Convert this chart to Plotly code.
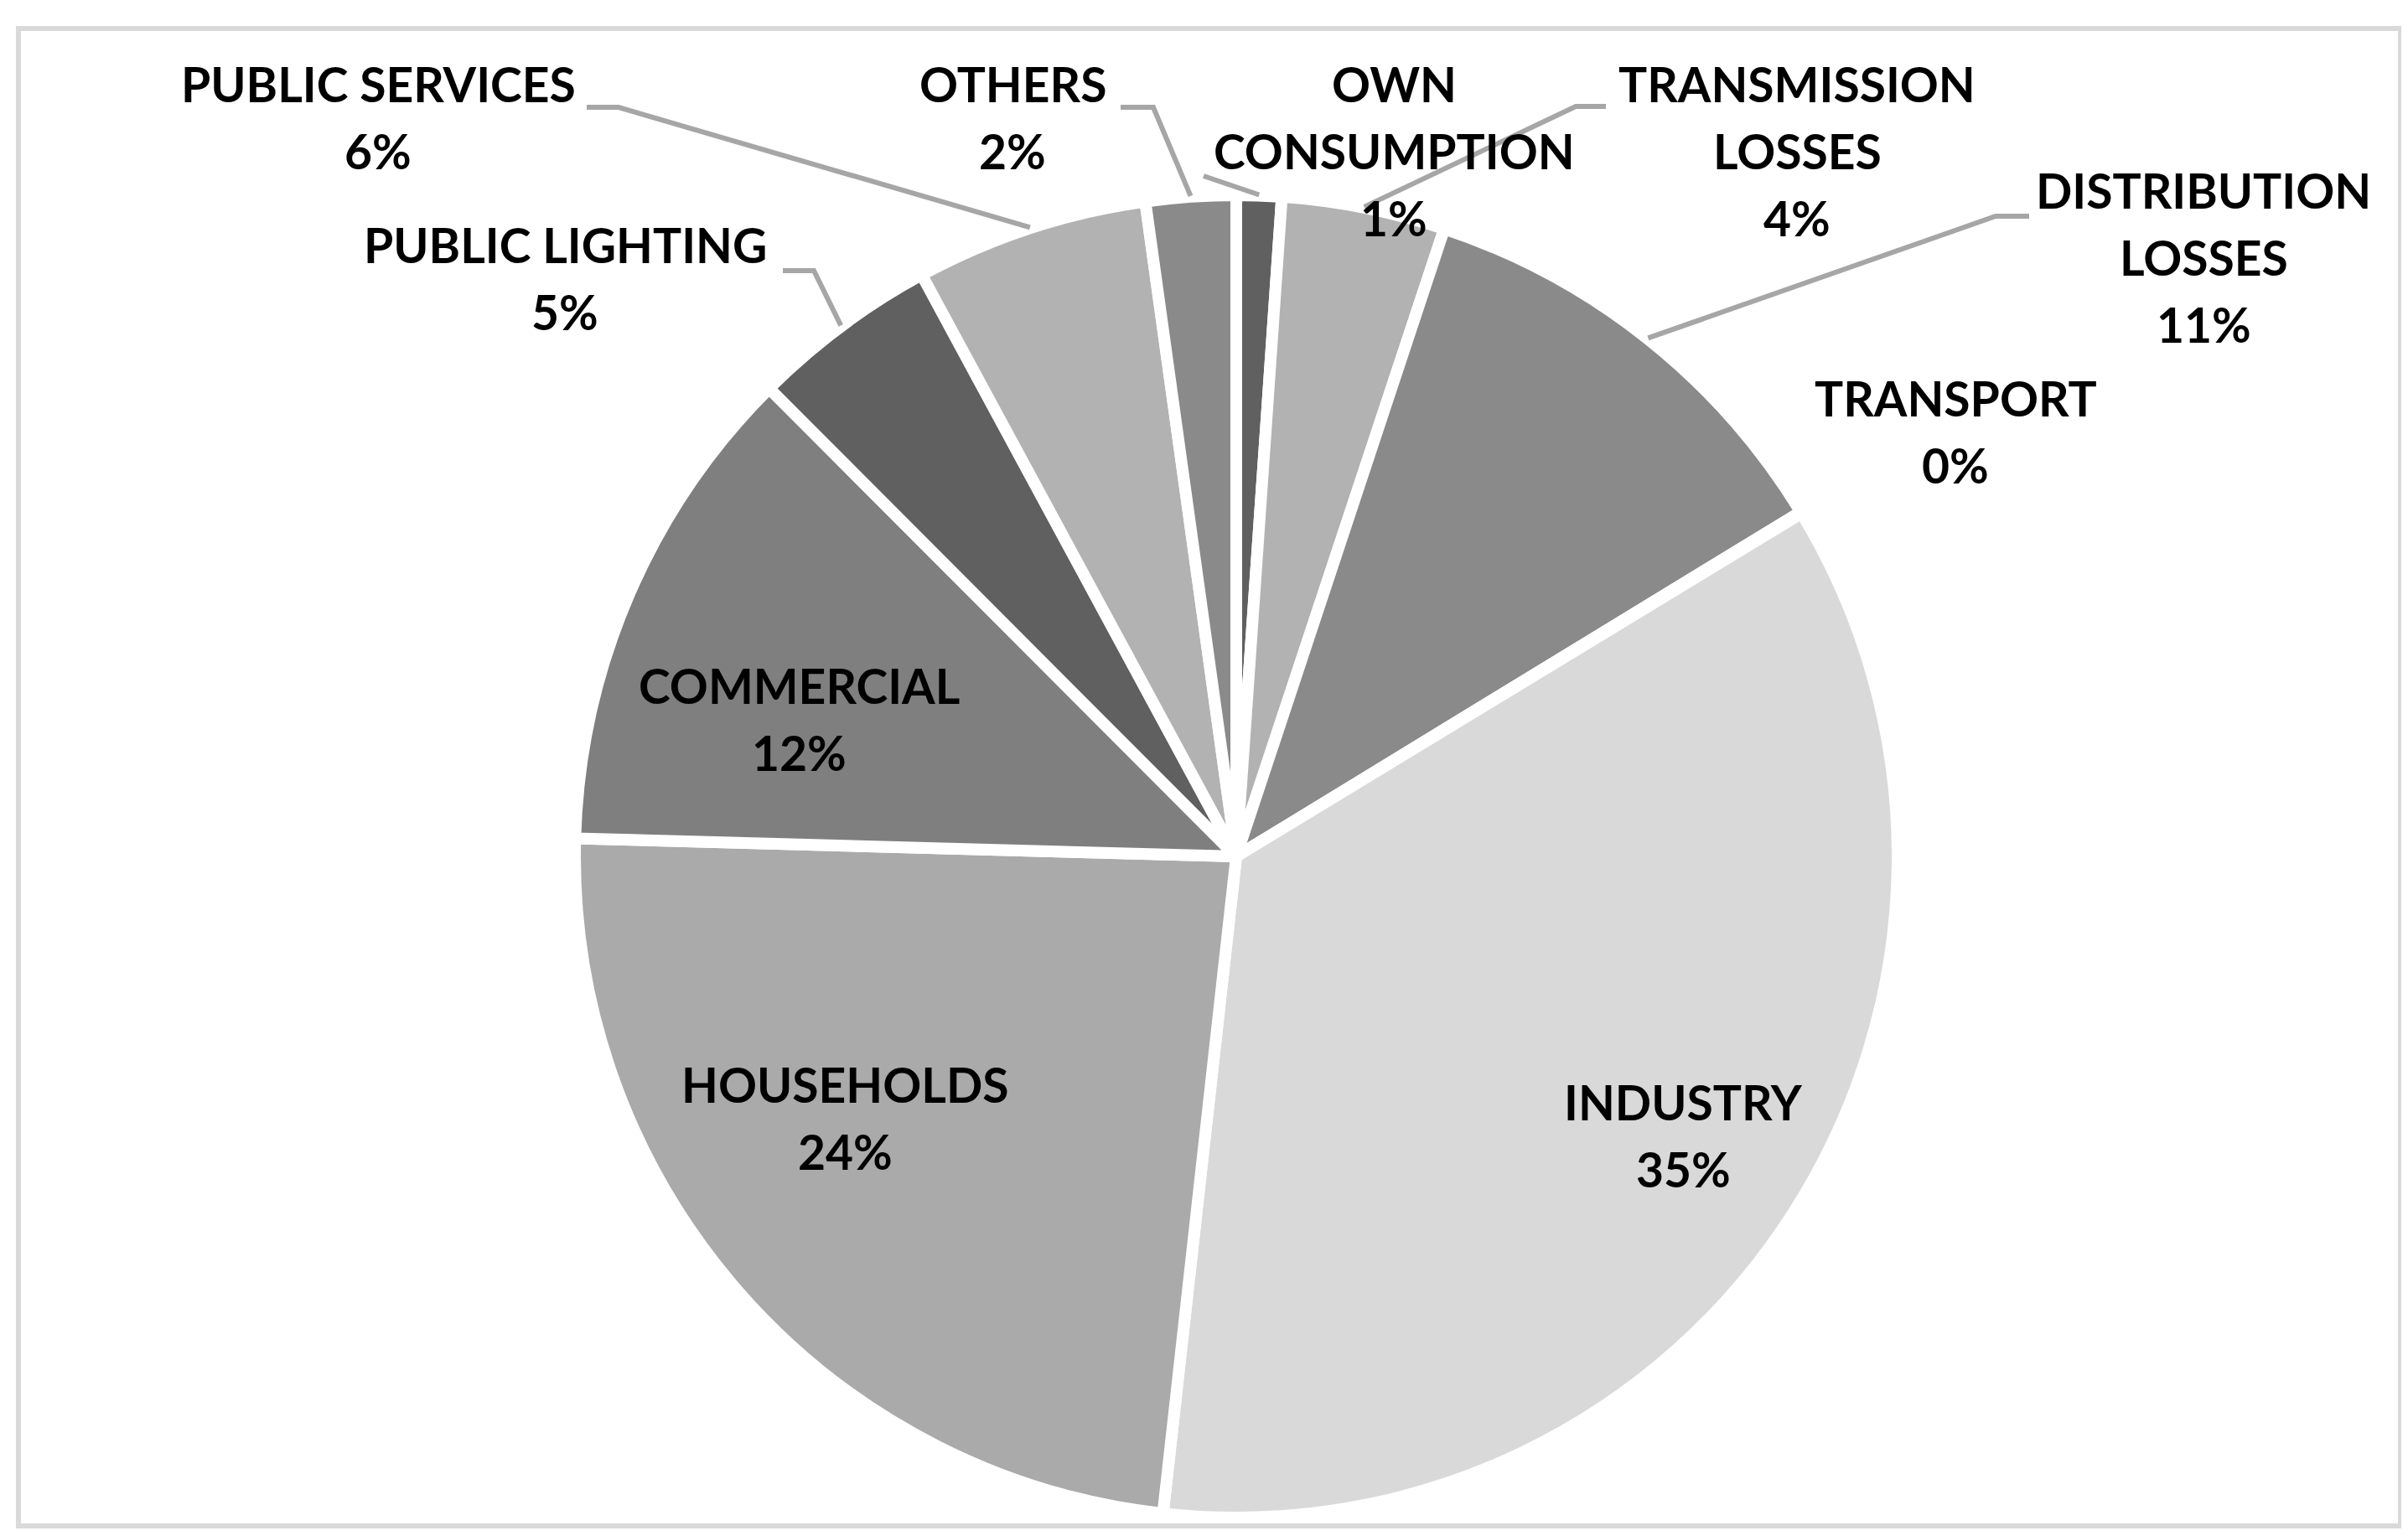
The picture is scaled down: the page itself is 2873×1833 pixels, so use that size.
import math
import plotly.graph_objects as go

W, H = 2873, 1833

# ---- data (clockwise from 12 o'clock) ----
categories = ["OWN CONSUMPTION", "TRANSMISSION LOSSES", "DISTRIBUTION LOSSES", "TRANSPORT",
              "INDUSTRY", "HOUSEHOLDS", "COMMERCIAL", "PUBLIC LIGHTING", "PUBLIC SERVICES", "OTHERS"]
values = [1.1, 4.0, 11.2, 0.04, 35.5, 23.7, 12.1, 4.6, 5.7, 2.2]
colors = ["#606060", "#b2b2b2", "#8a8a8a", "#d9d9d9", "#d9d9d9", "#aaaaaa", "#7f7f7f",
          "#606060", "#b2b2b2", "#8a8a8a"]
wrapped = ["OWN CONSUMPTION", "TRANSMISSION LOSSES", "DISTRIBUTION LOSSES"]

# ---- layout: label block centres (px, centre of the text block) ----
label_pos = {
    "OWN CONSUMPTION": (1655, 180),
    "TRANSMISSION LOSSES": (2136, 180),
    "DISTRIBUTION LOSSES": (2621, 307),
    "TRANSPORT": (2325, 515),
    "INDUSTRY": (2000, 1355),
    "HOUSEHOLDS": (1000, 1334),
    "COMMERCIAL": (945, 858),
    "PUBLIC LIGHTING": (666, 332),
    "PUBLIC SERVICES": (443, 140),
    "OTHERS": (1200, 140),
}
# leader line bends / ends (px)
leaders = {
    "OWN CONSUMPTION": [(1428, 202)],
    "TRANSMISSION LOSSES": [(1872, 119), (1908, 119)],
    "DISTRIBUTION LOSSES": [(2373, 250), (2413, 250)],
    "PUBLIC LIGHTING": [(963, 315), (926, 315)],
    "PUBLIC SERVICES": [(730, 120), (692, 120)],
    "OTHERS": [(1368, 120), (1329, 120)],
}

CX, CY, R = 1467, 1014, 789
LINE_W = 14
FONT_SIZE = 57
LINE_PITCH = 80
CAP_OFFSET = 8

def px(x, y):
    return x / W, 1 - y / H

fig = go.Figure()
fig.add_trace(go.Pie(
    labels=categories, values=values, sort=False, direction="clockwise", rotation=0,
    marker=dict(colors=colors, line=dict(color="white", width=LINE_W)),
    textinfo="none", hoverinfo="label+percent", showlegend=False,
    domain=dict(x=[(CX - R) / W, (CX + R) / W], y=[1 - (CY + R) / H, 1 - (CY - R) / H]),
))

total = sum(values)
annotations = []
shapes = []
cum = 0.0
for name, v in zip(categories, values):
    mid = (cum + v / 2) / total * 2 * math.pi
    cum += v
    pct = round(v / total * 100)
    lines = (name.split(" ", 1) if name in wrapped else [name]) + [f"{pct}%"]
    lx, ly = label_pos[name]
    n = len(lines)
    for i, t in enumerate(lines):
        yy = ly + (i - (n - 1) / 2) * LINE_PITCH - CAP_OFFSET
        ax, ay = px(lx, yy)
        annotations.append(dict(
            x=ax, y=ay, xref="paper", yref="paper", xanchor="center", yanchor="middle",
            text=t, showarrow=False, align="center",
            font=dict(family="Lato", size=FONT_SIZE, color="black", weight="bold"),
        ))
    if name in leaders:
        rs = R + 1
        sx, sy = CX + rs * math.sin(mid), CY - rs * math.cos(mid)
        pts = [(sx, sy)] + leaders[name]
        path = "M " + " L ".join(f"{px(x, y)[0]},{px(x, y)[1]}" for x, y in pts)
        shapes.append(dict(type="path", path=path, xref="paper", yref="paper",
                           line=dict(color="#a6a6a6", width=6)))

# chart-area border
bx0, by0 = px(14, 26)
bx1, by1 = px(2856, 1813)
shapes.append(dict(type="rect", xref="paper", yref="paper", x0=bx0, y0=by1, x1=bx1, y1=by0,
                   line=dict(color="#d9d9d9", width=6), fillcolor="rgba(0,0,0,0)", layer="below"))

fig.update_layout(
    width=W, height=H, margin=dict(l=0, r=0, t=0, b=0),
    paper_bgcolor="white", plot_bgcolor="white",
    annotations=annotations, shapes=shapes,
)
fig.write_html("out.html")
